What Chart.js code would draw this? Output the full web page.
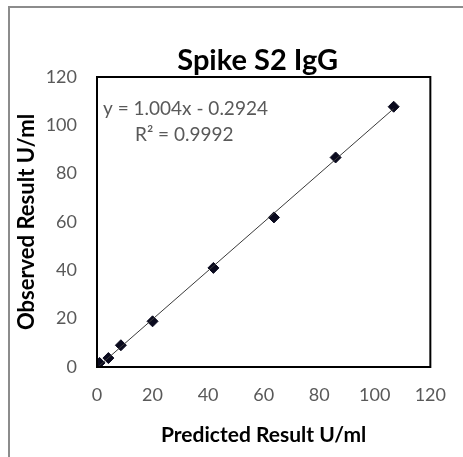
<!DOCTYPE html>
<html>
<head>
<meta charset="utf-8">
<script src="https://cdn.jsdelivr.net/npm/chart.js@4/dist/chart.umd.min.js"></script>
<style>
  html, body { margin: 0; padding: 0; background: #fff; }
  #wrap { position: relative; width: 463px; height: 457px; overflow: hidden; }
  #frame { position: absolute; left: 8px; top: 6px; width: 470px; height: 470px;
           border: 2px solid #8c8c8c; box-sizing: border-box; }
  canvas { position: absolute; left: 0; top: 0; }
</style>
</head>
<body>
<div id="wrap">
  <div id="frame"></div>
  <canvas id="scatter" width="463" height="457"></canvas>
</div>
<script>
// values
const predicted = [0.9, 4.1, 8.6, 20.0, 41.9, 63.7, 85.9, 106.8];
const observed = [1.7, 3.7, 9.0, 18.9, 41.0, 61.9, 86.7, 107.7];
const trendX = [0.9, 106.8];
const trendY = [0.6, 106.9];
const axisTicks = [0, 20, 40, 60, 80, 100, 120];
const chartTitle = 'Spike S2 IgG';
const equationLines = ['y = 1.004x - 0.2924', 'R² = 0.9992'];

const fontFamily = 'Lato, "Open Sans", sans-serif';
const tickGrey = '#595959';

const points = predicted.map(function (p, i) { return { x: p, y: observed[i] }; });
const trend = trendX.map(function (p, i) { return { x: p, y: trendY[i] }; });

// box around the plot area, the title, and the trendline equation
const boxPlugin = {
    id: 'boxAndEquation',
    afterDraw: function (chart) {
        const a = chart.chartArea;
        const ctx = chart.ctx;
        ctx.save();
        ctx.strokeStyle = '#000';
        ctx.lineWidth = 2;
        ctx.strokeRect(a.left, a.top, a.right - a.left, a.bottom - a.top);

        ctx.fillStyle = '#000';
        ctx.font = 'bold 29px ' + fontFamily;
        ctx.textAlign = 'center';
        ctx.textBaseline = 'middle';
        ctx.fillText(chartTitle, (a.left + a.right) / 2 - 6, a.top - 16);

        ctx.fillStyle = tickGrey;
        ctx.font = '19px ' + fontFamily;
        ctx.textAlign = 'left';
        ctx.fillText(equationLines[0], a.left + 6, a.top + 32);
        ctx.fillText(equationLines[1], a.left + 38, a.top + 58);
        ctx.restore();
    }
};

var ctx = document.getElementById('scatter');
window.chart = new Chart(ctx, {
    type: 'scatter',
    data: {
        datasets: [{
            label: 'Trend',
            data: trend,
            showLine: true,
            borderColor: '#3a3a3a',
            borderWidth: 1,
            pointRadius: 0,
            fill: false
        },
        {
            label: 'Spike S2 IgG',
            data: points,
            pointStyle: 'rectRot',
            pointRadius: 5.5,
            backgroundColor: '#0a0a1e',
            borderColor: '#0a0a1e'
        }]
    },
    options: {
        responsive: false,
        animation: false,
        layout: {
            padding: { left: 10, right: 27, top: 77, bottom: 9 }
        },
        plugins: {
            legend: { display: false },
            tooltip: { enabled: false },
            title: { display: false }
        },
        scales: {
            x: {
                type: 'linear',
                min: 0,
                max: 120,
                afterBuildTicks: function (scale) {
                    scale.ticks = axisTicks.map(function (v) { return { value: v }; });
                },
                afterFit: function (scale) {
                    scale.height = 81;
                },
                grid: { display: false, drawTicks: false },
                border: { display: false },
                ticks: {
                    color: tickGrey,
                    font: { family: fontFamily, size: 18 },
                    padding: 17
                },
                title: {
                    display: true,
                    text: 'Predicted Result U/ml',
                    color: '#000',
                    font: { family: fontFamily, size: 21, weight: 'bold' },
                    padding: { top: 0, bottom: 0 }
                }
            },
            y: {
                type: 'linear',
                min: 0,
                max: 120,
                afterBuildTicks: function (scale) {
                    scale.ticks = axisTicks.map(function (v) { return { value: v }; });
                },
                afterFit: function (scale) {
                    scale.width = 87;
                },
                grid: { display: false, drawTicks: false },
                border: { display: false },
                ticks: {
                    color: tickGrey,
                    font: { family: fontFamily, size: 18 },
                    padding: 20
                },
                title: {
                    display: true,
                    text: 'Observed Result U/ml',
                    color: '#000',
                    font: { family: fontFamily, size: 22, weight: 'bold' },
                    padding: { top: 4, bottom: 0 }
                }
            }
        }
    },
    plugins: [boxPlugin]
});
</script>
</body>
</html>
